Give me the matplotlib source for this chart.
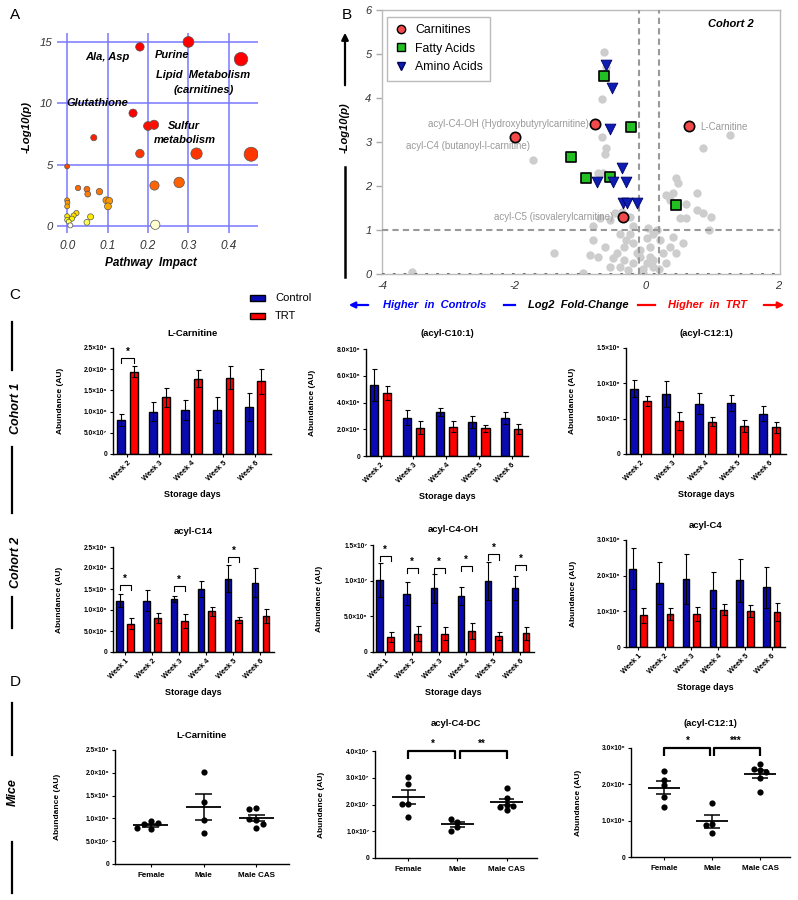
import numpy as np
import matplotlib
matplotlib.use('Agg')
import matplotlib.pyplot as plt
from matplotlib.colors import LinearSegmentedColormap
from matplotlib.lines import Line2D
from matplotlib.patches import Rectangle

plt.rcParams['font.family'] = ['Liberation Sans', 'DejaVu Sans']

W, H = 798, 900

# ---------------- panel A : pathway analysis
path_impact = [0.18, 0.30, 0.43, 0.163, 0.20, 0.215, 0.066, 0.18, 0.32, 0.455,
               0.0, 0.216, 0.277, 0.027, 0.049, 0.051, 0.08, 0.097, 0.104, 0.101,
               0.0, 0.001, 0.0, 0.023, 0.016, 0.012, 0.058, 0.049, 0.0, 0.0,
               0.004, 0.008, 0.218]
path_logp = [14.6, 15.0, 13.6, 9.2, 8.15, 8.25, 7.2, 5.9, 5.9, 5.85,
             4.85, 3.3, 3.55, 3.1, 3.0, 2.6, 2.8, 2.1, 2.05, 1.6,
             2.1, 1.9, 1.6, 1.05, 0.85, 0.6, 0.75, 0.3, 0.8, 0.5,
             0.35, 0.05, 0.1]
path_names = ['Ala, Asp', 'Purine', 'Lipid  Metabolism', '(carnitines)',
              'Glutathione', 'Sulfur', 'metabolism']

# ---------------- panel B : volcano plot, cohort 2
gray_fc = [-0.64, -0.61, -0.67, -0.66, -0.60, -0.62, -1.71, 1.27, 0.87, 0.46,
           0.49, 0.77, 0.31, 0.36, 0.61, 0.77, 0.87, 0.99, 0.51, 0.61,
           0.96, -0.73, -0.65, -0.57, -0.52, -0.47, -0.55, -0.37, -0.70, -0.80,
           -1.40, -3.55, -0.96, -0.81, -0.85, -0.72, -0.55, -0.39, -0.27, -0.19,
           -0.44, -0.34, -0.24, -0.19, 0.01, 0.06, 0.11, 0.16, 0.21, 0.26,
           0.36, 0.41, 0.56, 0.31, 0.11, -0.04, -0.14, -0.09, 0.06, 0.11,
           0.01, -0.34, -0.50, -0.19, -0.09, -0.39, 0.46, -0.24, 0.41, -0.05,
           0.20, -0.62, 0.03, -0.30]
gray_logp = [5.04, 4.70, 3.97, 3.12, 2.86, 2.73, 2.58, 3.16, 2.86, 2.19,
             2.06, 1.83, 1.80, 1.68, 1.59, 1.45, 1.38, 1.30, 1.27, 1.27,
             1.00, 2.29, 2.30, 2.25, 2.17, 1.38, 1.23, 1.42, 1.27, 1.08,
             0.47, 0.05, 0.03, 0.77, 0.43, 0.39, 0.17, 0.17, 0.09, 0.24,
             0.47, 0.62, 0.92, 1.08, 0.81, 0.62, 0.92, 1.00, 0.77, 0.47,
             0.62, 0.85, 0.70, 0.24, 0.17, 0.02, 0.47, 0.39, 0.39, 0.32,
             0.24, 0.32, 0.36, 0.70, 0.55, 0.92, 0.47, 1.30, 1.83, 0.12,
             0.12, 0.62, 1.05, 0.78]
carn_fc = [-0.78, -1.98, 0.65, -0.35]
carn_logp = [3.41, 3.12, 3.37, 1.30]
carn_names = ['acyl-C4-OH (Hydroxybutyrylcarnitine)', 'acyl-C4 (butanoyl-l-carnitine)',
              'L-Carnitine', 'acyl-C5 (isovalerylcarnitine)']
fatty_fc = [-0.63, -0.22, -1.13, -0.91, -0.55, 0.45]
fatty_logp = [4.50, 3.35, 2.67, 2.19, 2.21, 1.57]
amino_fc = [-0.61, -0.51, -0.55, -0.36, -0.75, -0.50, -0.31, -0.35, -0.29, -0.14]
amino_logp = [4.75, 4.22, 3.29, 2.40, 2.10, 2.08, 2.10, 1.62, 1.62, 1.62]

# ---------------- panel C : bar charts (mean, SEM)
weeks5 = ['Week 2', 'Week 3', 'Week 4', 'Week 5', 'Week 6']
weeks6 = ['Week 1', 'Week 2', 'Week 3', 'Week 4', 'Week 5', 'Week 6']

lcar_ctrl = [0.80e8, 1.00e8, 1.04e8, 1.04e8, 1.12e8]
lcar_ctrl_err = [0.14e8, 0.23e8, 0.24e8, 0.30e8, 0.33e8]
lcar_trt = [1.94e8, 1.34e8, 1.78e8, 1.80e8, 1.71e8]
lcar_trt_err = [0.13e8, 0.22e8, 0.21e8, 0.27e8, 0.29e8]

c101_ctrl = [5.31e6, 2.86e6, 3.28e6, 2.55e6, 2.85e6]
c101_ctrl_err = [1.19e6, 0.57e6, 0.30e6, 0.43e6, 0.45e6]
c101_trt = [4.74e6, 2.13e6, 2.18e6, 2.08e6, 2.00e6]
c101_trt_err = [0.52e6, 0.50e6, 0.40e6, 0.25e6, 0.38e6]

c121_ctrl = [0.925e6, 0.854e6, 0.71e6, 0.717e6, 0.57e6]
c121_ctrl_err = [0.125e6, 0.186e6, 0.15e6, 0.113e6, 0.105e6]
c121_trt = [0.75e6, 0.47e6, 0.458e6, 0.40e6, 0.377e6]
c121_trt_err = [0.066e6, 0.13e6, 0.062e6, 0.086e6, 0.076e6]

c14_ctrl = [1.22e6, 1.22e6, 1.27e6, 1.49e6, 1.75e6, 1.65e6]
c14_ctrl_err = [0.16e6, 0.25e6, 0.07e6, 0.19e6, 0.32e6, 0.34e6]
c14_trt = [0.67e6, 0.80e6, 0.74e6, 0.97e6, 0.76e6, 0.86e6]
c14_trt_err = [0.13e6, 0.12e6, 0.16e6, 0.11e6, 0.08e6, 0.17e6]

c4oh_ctrl = [10.08e6, 8.2e6, 8.95e6, 7.85e6, 10.0e6, 9.0e6]
c4oh_ctrl_err = [2.42e6, 1.55e6, 2.05e6, 1.22e6, 2.66e6, 1.65e6]
c4oh_trt = [2.1e6, 2.58e6, 2.58e6, 2.94e6, 2.24e6, 2.6e6]
c4oh_trt_err = [0.7e6, 1.08e6, 0.92e6, 1.06e6, 0.61e6, 0.86e6]

c4_ctrl = [2.2e6, 1.8e6, 1.9e6, 1.59e6, 1.87e6, 1.67e6]
c4_ctrl_err = [0.57e6, 0.59e6, 0.70e6, 0.50e6, 0.61e6, 0.58e6]
c4_trt = [0.89e6, 0.92e6, 0.92e6, 1.05e6, 1.01e6, 0.975e6]
c4_trt_err = [0.21e6, 0.17e6, 0.20e6, 0.15e6, 0.16e6, 0.245e6]

# significant weeks and bracket heights
lcar_sig, lcar_sig_h = [0], [2.27e8]
c14_sig, c14_sig_h = [0, 2, 4], [1.59e6, 1.58e6, 2.26e6]
c4oh_sig, c4oh_sig_h = [0, 1, 2, 3, 4, 5], [13.45e6, 11.8e6, 11.8e6, 12.1e6, 13.7e6, 12.2e6]

# ---------------- panel D : mice
mice_groups = ['Female', 'Male', 'Male CAS']
mlcar = [[0.95e8, 0.87e8, 0.89e8, 0.76e8, 0.80e8],
         [2.02e8, 1.35e8, 0.965e8, 0.67e8],
         [1.22e8, 1.21e8, 0.97e8, 0.99e8, 0.80e8, 0.88e8]]
mc4dc = [[3.04e7, 2.77e7, 2.02e7, 2.02e7, 1.53e7],
         [1.36e7, 1.46e7, 1.17e7, 1.02e7],
         [2.62e7, 2.25e7, 2.00e7, 1.92e7, 1.80e7, 1.95e7]]
mc121 = [[2.38e6, 2.12e6, 1.98e6, 1.66e6, 1.37e6],
         [1.50e6, 0.90e6, 0.89e6, 0.65e6],
         [2.57e6, 2.40e6, 2.42e6, 2.35e6, 2.17e6, 1.80e6]]
mc4dc_sig = [(0, 1, '*', 4.0e7), (1, 2, '**', 4.0e7)]
mc121_sig = [(0, 1, '*', 3.0e6), (1, 2, '***', 3.0e6)]

BLUE = '#0a0ab4'
RED = '#ff0000'

fig = plt.figure(figsize=(W / 100, H / 100), dpi=100)


def px_ax(left, top, right, bottom):
    return fig.add_axes([left / W, 1 - bottom / H, (right - left) / W, (bottom - top) / H])


def ftext(x, y, s, **kw):
    kw.setdefault('ha', 'center')
    kw.setdefault('va', 'center')
    return fig.text(x / W, 1 - y / H, s, **kw)


def fline(xs, ys, **kw):
    fig.add_artist(Line2D([x / W for x in xs], [1 - y / H for y in ys],
                          transform=fig.transFigure, **kw))


SUP = str.maketrans('0123456789', '⁰¹²³⁴⁵⁶⁷⁸⁹')


def sci(v):
    if v == 0:
        return '0'
    e = int(np.floor(np.log10(v) + 1e-9))
    return '%.1f×10%s' % (v / 10 ** e, str(e).translate(SUP))


def style_small(ax, ymax, ystep, title, pad):
    ticks = np.arange(0, ymax + ystep / 2, ystep)
    ax.set_ylim(0, ymax)
    ax.set_yticks(ticks, labels=[sci(t) for t in ticks], fontsize=4.8, fontweight='bold')
    for s in ['top', 'right']:
        ax.spines[s].set_visible(False)
    for s in ['left', 'bottom']:
        ax.spines[s].set_linewidth(1)
    ax.tick_params(length=2.5, width=0.8, pad=1.5)
    ax.set_ylabel('Abundance (AU)', fontsize=6, fontweight='bold')
    ax.yaxis.set_label_coords(-0.31, 0.5)
    ax.set_title(title, fontsize=6.8, fontweight='bold', pad=pad)


def bar_panel(box, title, weeks, ctrl, ctrl_err, trt, trt_err, ymax, ystep,
              sig=(), sig_h=()):
    ax = px_ax(*box)
    x = np.arange(len(weeks))
    ekw = dict(elinewidth=0.8, capsize=1.8, capthick=0.8, ecolor='black')
    ax.bar(x - 0.2, ctrl, 0.25, yerr=ctrl_err, color=BLUE, edgecolor='black',
           linewidth=1, error_kw=ekw)
    ax.bar(x + 0.2, trt, 0.25, yerr=trt_err, color=RED, edgecolor='black',
           linewidth=1, error_kw=ekw)
    ax.set_xlim(-0.45, len(weeks) - 0.5)
    ax.set_xticks(x, labels=weeks, rotation=45, ha='right', rotation_mode='anchor',
                  fontsize=5.3, fontweight='bold')
    style_small(ax, ymax, ystep, title, 9)
    ax.set_xlabel('Storage days', fontsize=6.5, fontweight='bold')
    ax.xaxis.set_label_coords(0.5, -0.34)
    drop = 0.05 * ymax
    for i, h in zip(sig, sig_h):
        ax.plot([i - 0.2, i - 0.2, i + 0.2, i + 0.2], [h - drop, h, h, h - drop],
                color='black', lw=0.8, clip_on=False)
        ax.text(i, h + 0.01 * ymax, '*', ha='center', va='bottom', fontsize=7,
                fontweight='bold')
    return ax


def swarm(vals, ymax, w=0.13):
    offs, placed = [], []
    for v in vals:
        used = [o for p, o in placed if abs(p - v) < 0.045 * ymax]
        for k in [0, -1, 1, -2, 2, -3, 3]:
            if k * w not in used:
                break
        offs.append(k * w)
        placed.append((v, k * w))
    return offs


def dot_panel(box, title, groups, ymax, ystep, sig=(), pad=9):
    ax = px_ax(*box)
    for i, vals in enumerate(groups):
        vals = np.array(vals)
        offs = swarm(vals, ymax)
        ax.scatter(i + np.array(offs), vals, s=20, color='black', zorder=3, lw=0)
        m = vals.mean()
        sem = vals.std(ddof=1) / np.sqrt(len(vals))
        ax.hlines(m, i - 0.33, i + 0.33, color='black', lw=1.3, zorder=2)
        ax.vlines(i, m - sem, m + sem, color='black', lw=1.1, zorder=2)
        ax.hlines([m - sem, m + sem], i - 0.16, i + 0.16, color='black', lw=1.1, zorder=2)
    ax.set_xlim(-0.68, 2.62)
    ax.set_xticks(range(len(groups)), labels=mice_groups, fontsize=5.8, fontweight='bold')
    style_small(ax, ymax, ystep, title, pad)
    ax.tick_params(axis='x', pad=3)
    drop = 0.075 * ymax
    for a, b, star, h in sig:
        x0 = a + (0.05 if a > 0 else 0.0)
        x1 = b - (0.05 if b < 2 else 0.0)
        ax.plot([x0, x0, x1, x1], [h - drop, h, h, h - drop], color='black', lw=1.6,
                clip_on=False, solid_capstyle='butt')
        ax.text((a + b) / 2, h + 0.02 * ymax, star, ha='center', va='bottom',
                fontsize=7, fontweight='bold')
    return ax


# ======================= panel A
axA = px_ax(57, 33, 258, 233)
cmap = LinearSegmentedColormap.from_list(
    'path', [(0, '#fffff0'), (0.03, '#ffff00'), (0.07, '#ffd000'), (0.11, '#ffa500'),
             (0.2, '#ff6a00'), (0.4, '#ff3300'), (0.6, '#ff0000'), (1, '#ff0000')])
sizes = [(3.5 + 14.5 * v) ** 2 for v in path_impact]
axA.scatter(path_impact, path_logp, s=sizes, c=path_logp, cmap=cmap, vmin=0, vmax=15,
            edgecolors='#555555', linewidths=0.5, zorder=3)
axA.set_xlim(-0.025, 0.472)
axA.set_ylim(-0.57, 15.73)
axA.set_xticks([0, 0.1, 0.2, 0.3, 0.4], labels=['0.0', '0.1', '0.2', '0.3', '0.4'],
               fontsize=8.5, style='italic', color='#333333')
axA.set_yticks([0, 5, 10, 15], labels=['0', '5', '10', '15'], fontsize=8.2,
               style='italic', color='#333333')
axA.tick_params(axis='x', length=0, pad=5)
axA.tick_params(axis='y', length=0, pad=3)
axA.grid(True, color='#7878ff', lw=1.1)
axA.set_axisbelow(True)
for s in axA.spines.values():
    s.set_visible(False)
for name, (tx, ty) in zip(path_names, [(0.10, 13.8), (0.26, 13.9), (0.337, 12.3),
                                       (0.337, 11.1), (0.075, 10.0), (0.29, 8.15),
                                       (0.29, 7.0)]):
    axA.text(tx, ty, name, ha='center', va='center', fontsize=8, fontweight='bold',
             style='italic', zorder=4)
ftext(27, 127, '-Log10(p)', rotation=90, fontsize=8.2, fontweight='bold', style='italic')
ftext(151, 263, 'Pathway  Impact', fontsize=8.5, fontweight='bold', style='italic')
ftext(15, 15, 'A', fontsize=11)

# ======================= panel B
axB = px_ax(382, 10, 780, 274)
axB.set_xlim(-4, 2.03)
axB.set_ylim(0, 6)
axB.scatter(gray_fc, gray_logp, s=36, color='#cdcdcd', lw=0, zorder=2)
for xv in [-0.1, 0.19]:
    axB.axvline(xv, color='#999999', ls=(0, (3, 2)), lw=1.5, zorder=3)
axB.axhline(1, color='#999999', ls=(0, (3, 2)), lw=1.5, zorder=3)
axB.axhline(0, color='#666666', ls=(0, (1.5, 4.5)), lw=1.3, zorder=3)
axB.scatter(carn_fc, carn_logp, s=55, marker='o', color='#f24a4a', edgecolors='black',
            linewidths=1.2, zorder=5)
axB.scatter(fatty_fc, fatty_logp, s=55, marker='s', color='#22c022', edgecolors='black',
            linewidths=1.2, zorder=5)
axB.scatter(amino_fc, amino_logp, s=60, marker='v', color='#0d1db4', edgecolors='#000060',
            linewidths=0.6, zorder=5)
for name, (tx, ty, ha) in zip(carn_names, [(-0.86, 3.42, 'right'), (-1.76, 2.92, 'right'),
                                           (0.82, 3.35, 'left'), (-0.50, 1.29, 'right')]):
    axB.text(tx, ty, name, ha=ha, va='center', fontsize=7, color='#9a9a9a', zorder=4)
axB.text(1.29, 5.68, 'Cohort 2', ha='center', va='center', fontsize=8,
         fontweight='bold', style='italic')
axB.set_xticks([-4, -2, 0, 2], labels=['-4', '-2', '0', '2'], fontsize=8,
               style='italic', color='#333333')
axB.set_yticks(range(7), labels=[str(i) for i in range(7)], fontsize=8,
               style='italic', color='#333333')
axB.tick_params(color='#aaaaaa', length=4, width=1)
axB.tick_params(axis='x', length=0, pad=5)
for s in axB.spines.values():
    s.set_color('#bbbbbb')
    s.set_linewidth(1)
handles = [Line2D([], [], ls='', marker='o', markersize=6, markerfacecolor='#f24a4a',
                  markeredgecolor='black', label='Carnitines'),
           Line2D([], [], ls='', marker='s', markersize=6, markerfacecolor='#22c022',
                  markeredgecolor='black', label='Fatty Acids'),
           Line2D([], [], ls='', marker='v', markersize=6, markerfacecolor='#0d1db4',
                  markeredgecolor='#000060', label='Amino Acids')]
axB.legend(handles=handles, loc='upper left', bbox_to_anchor=(0.012, 0.975),
           fancybox=False, edgecolor='#bbbbbb', fontsize=8.8, handletextpad=0.5,
           labelspacing=0.55, borderpad=0.6, framealpha=1, handlelength=1.2,
           borderaxespad=0)
ftext(347, 15, 'B', fontsize=11)
ftext(345, 128, '-Log10(p)', rotation=90, fontsize=8, fontweight='bold', style='italic')
fig.add_artist(matplotlib.patches.FancyArrowPatch(
    (345 / W, 1 - 88 / H), (345 / W, 1 - 30 / H), transform=fig.transFigure,
    arrowstyle='-|>', mutation_scale=10, color='black', lw=1.6))
fline([345, 345], [167, 277], color='black', lw=1.8)
# fold-change caption row
fig.add_artist(matplotlib.patches.FancyArrowPatch(
    (371 / W, 1 - 305 / H), (346 / W, 1 - 305 / H), transform=fig.transFigure,
    arrowstyle='-|>', mutation_scale=9, color='blue', lw=1.6))
ftext(383, 305, 'Higher  in  Controls', ha='left', fontsize=8, fontweight='bold',
      style='italic', color='blue')
fline([504, 515], [305, 305], color='blue', lw=1.6)
ftext(528, 305, 'Log2  Fold-Change', ha='left', fontsize=8, fontweight='bold', style='italic')
fline([638, 655], [305, 305], color='red', lw=1.6)
ftext(668, 305, 'Higher  in  TRT', ha='left', fontsize=8, fontweight='bold',
      style='italic', color='red')
fig.add_artist(matplotlib.patches.FancyArrowPatch(
    (761 / W, 1 - 305 / H), (787 / W, 1 - 305 / H), transform=fig.transFigure,
    arrowstyle='-|>', mutation_scale=9, color='red', lw=1.6))

# ======================= panel C
ftext(15, 295, 'C', fontsize=11)
for yy, lab, col in [(298, 'Control', BLUE), (316, 'TRT', RED)]:
    fig.add_artist(Rectangle((250 / W, 1 - (yy + 3) / H), 15 / W, 6 / H,
                             transform=fig.transFigure, facecolor=col,
                             edgecolor='black', lw=1))
    ftext(275, yy, lab, ha='left', fontsize=8)

bar_panel((113, 348, 271, 454), 'L-Carnitine', weeks5, lcar_ctrl, lcar_ctrl_err,
          lcar_trt, lcar_trt_err, 2.5e8, 5e7, lcar_sig, lcar_sig_h)
bar_panel((366, 349, 528, 456), '(acyl-C10:1)', weeks5, c101_ctrl, c101_ctrl_err,
          c101_trt, c101_trt_err, 8e6, 2e6)
bar_panel((626, 348, 786, 454), '(acyl-C12:1)', weeks5, c121_ctrl, c121_ctrl_err,
          c121_trt, c121_trt_err, 1.5e6, 5e5)
bar_panel((113, 547, 274, 652), 'acyl-C14', weeks6, c14_ctrl, c14_ctrl_err,
          c14_trt, c14_trt_err, 2.5e6, 5e5, c14_sig, c14_sig_h)
bar_panel((373, 545, 534, 652), 'acyl-C4-OH', weeks6, c4oh_ctrl, c4oh_ctrl_err,
          c4oh_trt, c4oh_trt_err, 1.5e7, 5e6, c4oh_sig, c4oh_sig_h)
bar_panel((626, 540, 785, 647), 'acyl-C4', weeks6, c4_ctrl, c4_ctrl_err,
          c4_trt, c4_trt_err, 3e6, 1e6)

# ======================= panel D
ftext(15, 682, 'D', fontsize=11)
dot_panel((115, 750, 289, 864), 'L-Carnitine', mlcar, 2.5e8, 5e7)
dot_panel((375, 751, 537, 858), 'acyl-C4-DC', mc4dc, 4e7, 1e7, mc4dc_sig, pad=18)
dot_panel((631, 748, 790, 857), '(acyl-C12:1)', mc121, 3e6, 1e6, mc121_sig, pad=16)

# side labels
for y0, y1 in [(322, 370), (447, 513), (597, 628), (703, 755), (842, 893)]:
    fline([12, 12], [y0, y1], color='black', lw=1.6)
ftext(16, 408, 'Cohort 1', rotation=90, fontsize=9, fontweight='bold', style='italic')
ftext(16, 562, 'Cohort 2', rotation=90, fontsize=9, fontweight='bold', style='italic')
ftext(13, 792, 'Mice', rotation=90, fontsize=9, fontweight='bold', style='italic')

fig.savefig('out.png', dpi=100)
